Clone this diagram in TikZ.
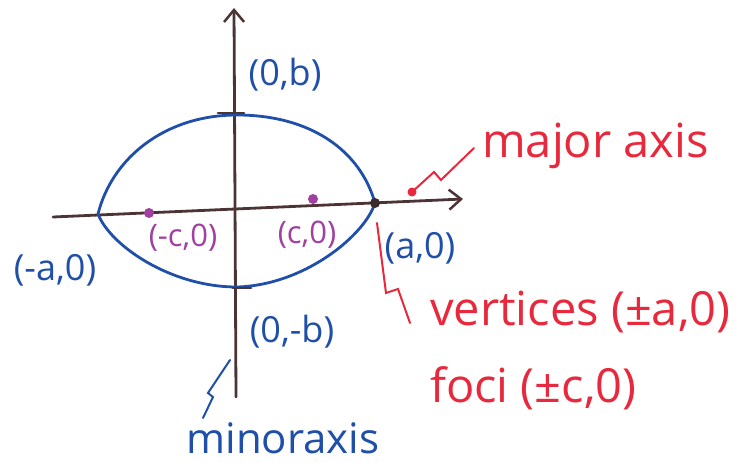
\documentclass[tikz,border=0pt]{standalone}
\usepackage{fontspec}
\setmainfont{Open Sans}
\usetikzlibrary{arrows.meta,positioning}
\definecolor{axisbrown}{HTML}{4A3434}
\definecolor{penblue}{HTML}{1F4FA8}
\definecolor{penred}{HTML}{E8283C}
\definecolor{penpurple}{HTML}{A040A0}
\tikzset{>={Straight Barb[length=12pt,width=20pt,line width=2.5pt]}}
\tikzset{pen/.style={line width=2.8pt, line cap=round, line join=round},
  leader/.style={line width=2pt, line cap=round, line join=miter},
  bluelbl/.style={text=penblue, inner sep=0pt, font=\fontsize{36}{40}\selectfont},
  redlbl/.style={text=penred, inner sep=0pt, font=\fontsize{47}{50}\selectfont},
  focuslbl/.style={text=penpurple, inner sep=0pt, font=\fontsize{31}{34}\selectfont}}

\begin{document}
\begin{tikzpicture}[x=1pt,y=-1pt]
  \useasboundingbox (0,0) rectangle (750,463);
  % axes
  \coordinate (xl) at (53,217);
  \coordinate (xr) at (463,199);
  \coordinate (yb) at (236,397);
  \coordinate (yt) at (234,8);
  \draw[pen, axisbrown, ->] (xl) -- (xr);
  \draw[pen, axisbrown, ->] (yb) -- (yt);
  % ellipse
  \coordinate (va) at (98,214);
  \coordinate (vb) at (375,203);
  \coordinate (ct) at (237,115);
  \coordinate (cb) at (237,287);
  \draw[pen, penblue] (va) .. controls (112,158) and (165,115) .. (ct)
    .. controls (310,115) and (360,150) .. (vb)
    .. controls (365,235) and (305,285) .. (cb)
    .. controls (170,287) and (110,245) .. (va);
  \draw[pen, axisbrown] (ct) ++(-19,-2) -- ++(26,0);
  \draw[pen, axisbrown] (cb) ++(-4,1) -- ++(18,0);
  \foreach \p in {(149,213),(313,199)}
    \fill[penpurple] \p circle (5);
  \fill[axisbrown!80!black] (vb) circle (5);
  % labels
  \node[bluelbl] (b) at (285,75) {(0,b)};
  \node[bluelbl] (mb) at (292,332) {(0,-b)};
  \node[bluelbl] (ma) at (55,270) {(-a,0)};
  \node[bluelbl] (a) at (420,248) {(a,0)};
  \node[focuslbl] (mc) at (183,238) {(-c,0)};
  \node[focuslbl] (c) at (307,235) {(c,0)};
  \node[bluelbl, font=\fontsize{42}{46}\selectfont] (minor) at (283,438) {minoraxis};
  \node[redlbl, anchor=west] (major) at (482,146) {major axis};
  \node[redlbl, anchor=west] (vert) at (430,312) {vertices (±a,0)};
  \node[redlbl, anchor=west] (foci) at (430,388) {foci (±c,0)};
  % leaders
  \coordinate (mtip) at (412,192);
  \draw[leader, penred] (major.west) ++(-8,2) -- ++(-33,32) -- ++(-7,-8) -- (mtip);
  \fill[penred] (mtip) circle (4.5);
  \draw[leader, penred] (vb) ++(2,20) -- ++(9,70) -- ++(12,-4) -- ++(12,34);
  \coordinate (ytip) at (230,360);
  \draw[leader, penblue] (ytip) -- ++(-22,33) -- ++(5,4) -- ++(-10,21);
\end{tikzpicture}
\end{document}
